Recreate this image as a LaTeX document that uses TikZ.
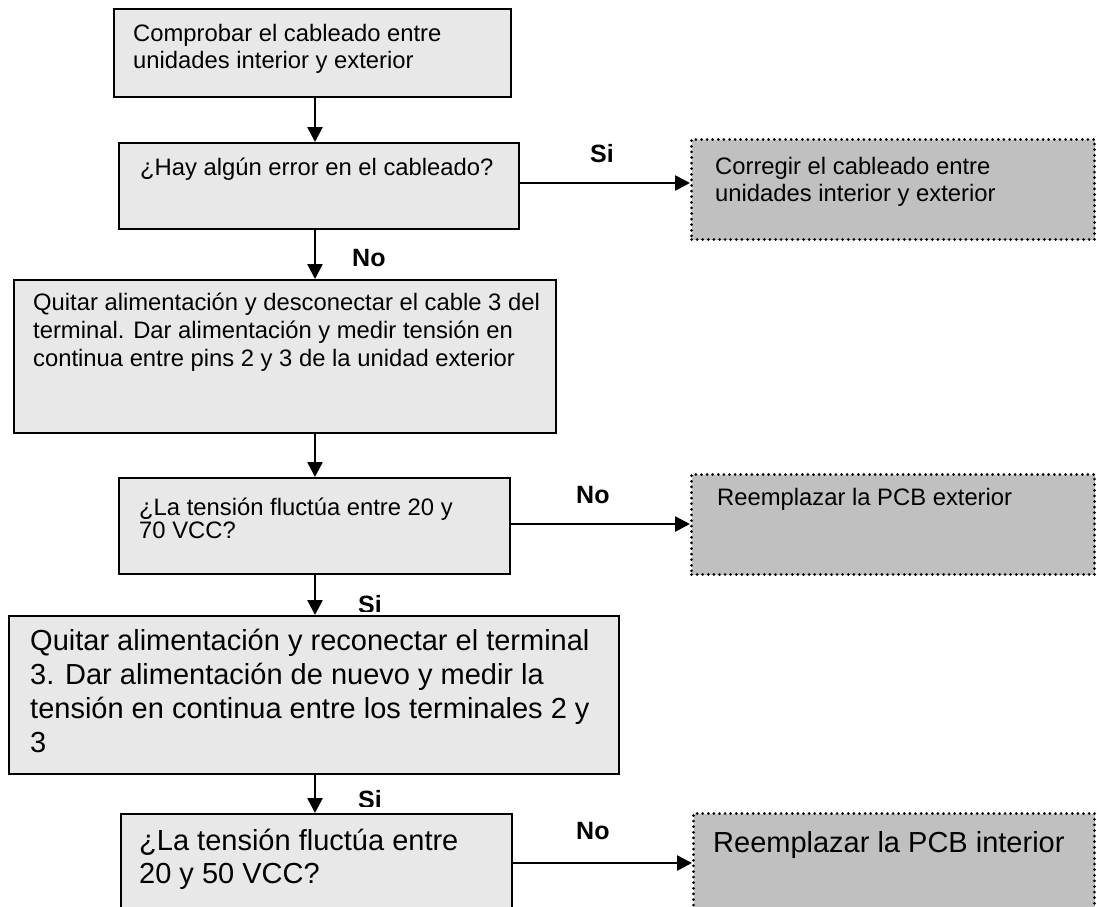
\documentclass[tikz,border=0pt]{standalone}
\usepackage{fontspec}
\setmainfont{Liberation Sans}
\usetikzlibrary{arrows.meta}
\definecolor{boxfill}{HTML}{E8E8E8}
\definecolor{endfill}{HTML}{C0C0C0}
\begin{document}
\begin{tikzpicture}[x=1pt,y=-1pt,
  stepbox/.style={draw=black, line width=2pt, fill=boxfill, rectangle,
    inner sep=0pt, anchor=north west},
  endbox/.style={draw=black, line width=3pt, dash pattern=on 0pt off 5.6pt,
    line cap=round, fill=endfill, rectangle, inner sep=0pt, anchor=north west},
  txt/.style={anchor=north west, inner sep=0pt, align=left,
    execute at begin node=\strut},
  small/.style={font=\fontsize{23.8}{27}\selectfont},
  large/.style={font=\fontsize{29}{34}\selectfont},
  lbl/.style={anchor=base west, inner sep=0pt, font=\fontsize{25}{28}\selectfont\bfseries},
  arr/.style={draw=black, line width=2.6pt, -{Triangle[length=15pt,width=15pt]}}
]
\useasboundingbox (0,0) rectangle (1097,906);
\clip (0,0) rectangle (1097,906);
\fill[white] (0,0) rectangle (1097,906);
\coordinate (spine) at (315,0);

% process steps and questions
\node[stepbox, minimum width=397pt, minimum height=88pt]  (b1) at (113,8)   {};
\node[stepbox, minimum width=400pt, minimum height=86pt]  (b2) at (118,142) {};
\node[stepbox, minimum width=542pt, minimum height=153pt] (b3) at (13,279)  {};
\node[stepbox, minimum width=391pt, minimum height=96pt]  (b4) at (118,477) {};
\node[stepbox, minimum width=610pt, minimum height=158pt] (b5) at (8,615)   {};
\node[stepbox, minimum width=391pt, minimum height=98pt]  (b6) at (120,813) {};

% outcome boxes
\node[endbox, minimum width=403pt, minimum height=100pt] (d1) at (690,138) {};
\node[endbox, minimum width=403pt, minimum height=100pt] (d2) at (690,473) {};
\node[endbox, minimum width=401pt, minimum height=120pt] (d3) at (692,812) {};

% box texts
\node[txt, small] (t1) at (133,24.1)  {Comprobar el cableado entre\\unidades interior y exterior};
\node[txt, small] (t2) at (140,156.1) {¿Hay algún error en el cableado?};
\node[txt, font=\fontsize{23.8}{28}\selectfont] (t3) at (33,292.4)
  {Quitar alimentación y desconectar el cable 3 del\\terminal. Dar alimentación y medir tensión en\\continua entre pins 2 y 3 de la unidad exterior};
\node[txt, font=\fontsize{23.8}{23}\selectfont] (t4) at (139,497.9) {¿La tensión fluctúa entre 20 y\\70 VCC?};
\node[txt, large] (t5) at (30,629.2)
  {Quitar alimentación y reconectar el terminal\\3. Dar alimentación de nuevo y medir la\\tensión en continua entre los terminales 2 y\\3};
\node[txt, font=\fontsize{29}{33}\selectfont] (t6) at (139,828.9) {¿La tensión fluctúa entre\\20 y 50 VCC?};
\node[txt, small] (t7) at (715,157.1) {Corregir el cableado entre\\unidades interior y exterior};
\node[txt, small] (t8) at (717,486.1) {Reemplazar la PCB exterior};
\node[txt, font=\fontsize{29}{34}\selectfont] (t9) at (713,828.2) {Reemplazar la PCB interior};

% connectors
\draw[arr] (spine |- b1.south) -- (spine |- b2.north);
\draw[arr] ([yshift=3pt]b2.east) -- ([yshift=3pt]b2.east -| d1.west);
\draw[arr] (spine |- b2.south) -- (spine |- b3.north);
\draw[arr] (spine |- b3.south) -- (spine |- b4.north);
\draw[arr] ([yshift=2pt]b4.east) -- ([yshift=2pt]b4.east -| d2.west);
\draw[arr] (spine |- b4.south) -- (spine |- b5.north);
\draw[arr] (spine |- b5.south) -- (spine |- b6.north);
\draw[arr] (b6.east) -- (b6.east -| d3.west);

% branch labels
\node[lbl] (l1) at (590,162) {Si};
\node[lbl] (l2) at (352,266) {No};
\node[lbl] (l3) at (576,503) {No};
\begin{scope}
  \clip (340,580) rectangle (400,611);
  \node[lbl] (l4) at (358,613) {Si};
\end{scope}
\begin{scope}
  \clip (340,780) rectangle (400,806);
  \node[lbl] (l5) at (358,808) {Si};
\end{scope}
\node[lbl] (l6) at (576,839) {No};
\end{tikzpicture}
\end{document}
